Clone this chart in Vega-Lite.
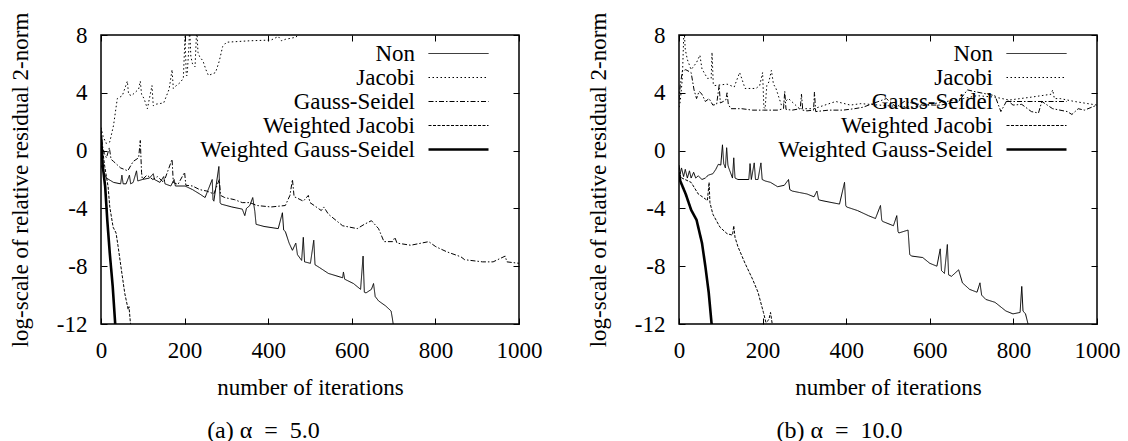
{
  "$schema": "https://vega.github.io/schema/vega-lite/v6.json",
  "autosize": {"type": "none"},
  "padding": {"left": 101, "top": 35, "right": 1027, "bottom": 406},
  "background": "white",
  "spacing": 160,
  "bounds": "flush",
  "config": {
    "font": "Liberation Serif",
    "view": {"stroke": "black", "strokeWidth": 1.5},
    "axis": {
      "domain": false, "grid": false, "ticks": true, "tickColor": "black", "tickSize": -6, "tickWidth": 1,
      "labelFont": "Liberation Serif", "labelFontSize": 23, "labelColor": "black", "labelPadding": 21,
      "labelFlush": false, "labelOverlap": false,
      "labelExpr": "'' + datum.value",
      "titleFont": "Liberation Serif", "titleFontSize": 23, "titleFontWeight": "normal", "titleColor": "black"
    },
    "legend": {
      "orient": "none", "legendX": 346, "legendY": 7, "title": null,
      "symbolType": "M-6,0H6", "symbolSize": 100, "symbolStrokeColor": "black", "symbolFillColor": "transparent",
      "rowPadding": -2, "padding": 0,
      "labelAlign": "right", "labelOffset": -55, "labelFont": "Liberation Serif", "labelFontSize": 23,
      "labelColor": "black", "labelLimit": 0
    },
    "title": {"font": "Liberation Serif", "fontSize": 24, "fontWeight": "normal", "color": "black"}
  },
  "datasets": {
    "a": [
      {"m":"Non","x":0,"y":-1.0},{"m":"Non","x":5,"y":-1.4},{"m":"Non","x":13,"y":-1.9},{"m":"Non","x":30,"y":-2.2},{"m":"Non","x":47,"y":-2.3},{"m":"Non","x":50,"y":-1.7},{"m":"Non","x":53,"y":-2.3},{"m":"Non","x":60,"y":-2.3},{"m":"Non","x":68,"y":-1.7},{"m":"Non","x":71,"y":-2.3},{"m":"Non","x":77,"y":-2.2},{"m":"Non","x":85,"y":-1.4},{"m":"Non","x":88,"y":-2.1},{"m":"Non","x":99,"y":-2.0},{"m":"Non","x":116,"y":-1.9},{"m":"Non","x":125,"y":-1.6},{"m":"Non","x":128,"y":-2.0},{"m":"Non","x":141,"y":-2.2},{"m":"Non","x":150,"y":-1.8},{"m":"Non","x":153,"y":-2.3},{"m":"Non","x":167,"y":-2.45},{"m":"Non","x":175,"y":-2.0},{"m":"Non","x":178,"y":-2.45},{"m":"Non","x":201,"y":-2.45},{"m":"Non","x":219,"y":-2.7},{"m":"Non","x":236,"y":-3.0},{"m":"Non","x":249,"y":-3.25},{"m":"Non","x":266,"y":-2.0},{"m":"Non","x":268,"y":-3.4},{"m":"Non","x":270,"y":-3.5},{"m":"Non","x":282,"y":-1.1},{"m":"Non","x":285,"y":-3.6},{"m":"Non","x":287,"y":-3.7},{"m":"Non","x":313,"y":-3.9},{"m":"Non","x":338,"y":-4.05},{"m":"Non","x":344,"y":-4.5},{"m":"Non","x":348,"y":-4.0},{"m":"Non","x":356,"y":-3.8},{"m":"Non","x":363,"y":-3.25},{"m":"Non","x":368,"y":-4.2},{"m":"Non","x":371,"y":-5.1},{"m":"Non","x":390,"y":-5.25},{"m":"Non","x":424,"y":-5.4},{"m":"Non","x":434,"y":-4.3},{"m":"Non","x":437,"y":-5.5},{"m":"Non","x":441,"y":-5.6},{"m":"Non","x":450,"y":-6.4},{"m":"Non","x":458,"y":-6.9},{"m":"Non","x":466,"y":-6.4},{"m":"Non","x":470,"y":-7.2},{"m":"Non","x":480,"y":-7.6},{"m":"Non","x":484,"y":-6.0},{"m":"Non","x":487,"y":-7.7},{"m":"Non","x":501,"y":-7.8},{"m":"Non","x":509,"y":-6.2},{"m":"Non","x":512,"y":-7.9},{"m":"Non","x":523,"y":-8.1},{"m":"Non","x":544,"y":-8.5},{"m":"Non","x":578,"y":-8.8},{"m":"Non","x":580,"y":-8.4},{"m":"Non","x":583,"y":-8.9},{"m":"Non","x":604,"y":-9.2},{"m":"Non","x":621,"y":-9.6},{"m":"Non","x":627,"y":-7.3},{"m":"Non","x":630,"y":-9.8},{"m":"Non","x":634,"y":-9.85},{"m":"Non","x":647,"y":-9.6},{"m":"Non","x":652,"y":-9.2},{"m":"Non","x":656,"y":-10.1},{"m":"Non","x":664,"y":-10.4},{"m":"Non","x":681,"y":-10.75},{"m":"Non","x":694,"y":-11.1},{"m":"Non","x":697,"y":-11.6},{"m":"Non","x":702,"y":-12.6},
      {"m":"Jacobi","x":0,"y":1.6},{"m":"Jacobi","x":5,"y":1.0},{"m":"Jacobi","x":12,"y":0.5},{"m":"Jacobi","x":21,"y":0.6},{"m":"Jacobi","x":30,"y":1.75},{"m":"Jacobi","x":39,"y":3.6},{"m":"Jacobi","x":51,"y":3.8},{"m":"Jacobi","x":63,"y":4.8},{"m":"Jacobi","x":66,"y":3.9},{"m":"Jacobi","x":73,"y":3.8},{"m":"Jacobi","x":90,"y":4.25},{"m":"Jacobi","x":94,"y":4.8},{"m":"Jacobi","x":97,"y":3.9},{"m":"Jacobi","x":103,"y":3.6},{"m":"Jacobi","x":111,"y":2.9},{"m":"Jacobi","x":122,"y":4.5},{"m":"Jacobi","x":125,"y":3.1},{"m":"Jacobi","x":129,"y":3.2},{"m":"Jacobi","x":150,"y":3.3},{"m":"Jacobi","x":163,"y":4.25},{"m":"Jacobi","x":170,"y":5.6},{"m":"Jacobi","x":173,"y":4.3},{"m":"Jacobi","x":176,"y":4.4},{"m":"Jacobi","x":189,"y":4.7},{"m":"Jacobi","x":197,"y":5.0},{"m":"Jacobi","x":201,"y":7.9},{"m":"Jacobi","x":204,"y":5.2},{"m":"Jacobi","x":206,"y":5.2},{"m":"Jacobi","x":210,"y":7.0},{"m":"Jacobi","x":212,"y":8.5},{"m":"Jacobi","x":215,"y":6.5},{"m":"Jacobi","x":219,"y":6.0},{"m":"Jacobi","x":225,"y":5.8},{"m":"Jacobi","x":229,"y":8.5},{"m":"Jacobi","x":232,"y":6.8},{"m":"Jacobi","x":236,"y":6.5},{"m":"Jacobi","x":244,"y":6.2},{"m":"Jacobi","x":251,"y":5.6},{"m":"Jacobi","x":257,"y":5.2},{"m":"Jacobi","x":274,"y":5.4},{"m":"Jacobi","x":283,"y":6.2},{"m":"Jacobi","x":291,"y":7.2},{"m":"Jacobi","x":300,"y":7.5},{"m":"Jacobi","x":356,"y":7.6},{"m":"Jacobi","x":407,"y":7.65},{"m":"Jacobi","x":424,"y":7.9},{"m":"Jacobi","x":432,"y":7.6},{"m":"Jacobi","x":441,"y":7.7},{"m":"Jacobi","x":467,"y":7.85},{"m":"Jacobi","x":480,"y":8.6},
      {"m":"Gauss-Seidel","x":0,"y":1.5},{"m":"Gauss-Seidel","x":3,"y":0.4},{"m":"Gauss-Seidel","x":8,"y":-0.2},{"m":"Gauss-Seidel","x":13,"y":-0.5},{"m":"Gauss-Seidel","x":20,"y":0.2},{"m":"Gauss-Seidel","x":24,"y":-0.6},{"m":"Gauss-Seidel","x":30,"y":-0.75},{"m":"Gauss-Seidel","x":47,"y":-1.2},{"m":"Gauss-Seidel","x":64,"y":-1.4},{"m":"Gauss-Seidel","x":77,"y":-0.75},{"m":"Gauss-Seidel","x":90,"y":-0.5},{"m":"Gauss-Seidel","x":94,"y":0.7},{"m":"Gauss-Seidel","x":97,"y":-1.5},{"m":"Gauss-Seidel","x":99,"y":-2.0},{"m":"Gauss-Seidel","x":110,"y":-1.7},{"m":"Gauss-Seidel","x":124,"y":-2.0},{"m":"Gauss-Seidel","x":135,"y":-1.8},{"m":"Gauss-Seidel","x":150,"y":-2.2},{"m":"Gauss-Seidel","x":170,"y":-0.6},{"m":"Gauss-Seidel","x":173,"y":-2.2},{"m":"Gauss-Seidel","x":184,"y":-2.35},{"m":"Gauss-Seidel","x":200,"y":-1.5},{"m":"Gauss-Seidel","x":203,"y":-2.4},{"m":"Gauss-Seidel","x":219,"y":-2.45},{"m":"Gauss-Seidel","x":236,"y":-2.7},{"m":"Gauss-Seidel","x":253,"y":-2.8},{"m":"Gauss-Seidel","x":270,"y":-3.0},{"m":"Gauss-Seidel","x":283,"y":-2.0},{"m":"Gauss-Seidel","x":286,"y":-3.1},{"m":"Gauss-Seidel","x":296,"y":-3.25},{"m":"Gauss-Seidel","x":320,"y":-3.4},{"m":"Gauss-Seidel","x":338,"y":-3.6},{"m":"Gauss-Seidel","x":356,"y":-3.6},{"m":"Gauss-Seidel","x":373,"y":-3.8},{"m":"Gauss-Seidel","x":407,"y":-3.9},{"m":"Gauss-Seidel","x":441,"y":-3.8},{"m":"Gauss-Seidel","x":452,"y":-3.1},{"m":"Gauss-Seidel","x":458,"y":-2.0},{"m":"Gauss-Seidel","x":462,"y":-3.2},{"m":"Gauss-Seidel","x":467,"y":-3.25},{"m":"Gauss-Seidel","x":484,"y":-3.5},{"m":"Gauss-Seidel","x":496,"y":-3.1},{"m":"Gauss-Seidel","x":500,"y":-3.6},{"m":"Gauss-Seidel","x":510,"y":-3.8},{"m":"Gauss-Seidel","x":527,"y":-4.15},{"m":"Gauss-Seidel","x":533,"y":-3.9},{"m":"Gauss-Seidel","x":544,"y":-4.4},{"m":"Gauss-Seidel","x":578,"y":-5.2},{"m":"Gauss-Seidel","x":613,"y":-5.4},{"m":"Gauss-Seidel","x":630,"y":-5.1},{"m":"Gauss-Seidel","x":647,"y":-4.85},{"m":"Gauss-Seidel","x":664,"y":-5.4},{"m":"Gauss-Seidel","x":677,"y":-6.3},{"m":"Gauss-Seidel","x":698,"y":-6.3},{"m":"Gauss-Seidel","x":703,"y":-6.0},{"m":"Gauss-Seidel","x":708,"y":-6.4},{"m":"Gauss-Seidel","x":741,"y":-6.55},{"m":"Gauss-Seidel","x":784,"y":-6.3},{"m":"Gauss-Seidel","x":801,"y":-6.65},{"m":"Gauss-Seidel","x":827,"y":-7.0},{"m":"Gauss-Seidel","x":861,"y":-7.35},{"m":"Gauss-Seidel","x":870,"y":-7.55},{"m":"Gauss-Seidel","x":913,"y":-7.7},{"m":"Gauss-Seidel","x":938,"y":-7.7},{"m":"Gauss-Seidel","x":967,"y":-7.3},{"m":"Gauss-Seidel","x":971,"y":-7.7},{"m":"Gauss-Seidel","x":1000,"y":-7.8},
      {"m":"Weighted Jacobi","x":0,"y":1.2},{"m":"Weighted Jacobi","x":4,"y":0.0},{"m":"Weighted Jacobi","x":9,"y":-1.1},{"m":"Weighted Jacobi","x":17,"y":-2.5},{"m":"Weighted Jacobi","x":21,"y":-3.9},{"m":"Weighted Jacobi","x":29,"y":-5.3},{"m":"Weighted Jacobi","x":36,"y":-5.7},{"m":"Weighted Jacobi","x":41,"y":-6.65},{"m":"Weighted Jacobi","x":49,"y":-8.3},{"m":"Weighted Jacobi","x":57,"y":-9.9},{"m":"Weighted Jacobi","x":65,"y":-11.0},{"m":"Weighted Jacobi","x":67,"y":-10.8},{"m":"Weighted Jacobi","x":70,"y":-11.8},{"m":"Weighted Jacobi","x":73,"y":-12.5},
      {"m":"Weighted Gauss-Seidel","x":0,"y":1.0},{"m":"Weighted Gauss-Seidel","x":4,"y":-1.0},{"m":"Weighted Gauss-Seidel","x":10,"y":-2.5},{"m":"Weighted Gauss-Seidel","x":15,"y":-4.8},{"m":"Weighted Gauss-Seidel","x":21,"y":-7.1},{"m":"Weighted Gauss-Seidel","x":28,"y":-9.4},{"m":"Weighted Gauss-Seidel","x":34,"y":-12.0},{"m":"Weighted Gauss-Seidel","x":36,"y":-12.6}
    ],
    "b": [
      {"m":"Non","x":0,"y":-1.0},{"m":"Non","x":3,"y":-1.6},{"m":"Non","x":6,"y":-1.2},{"m":"Non","x":11,"y":-1.8},{"m":"Non","x":15,"y":-1.3},{"m":"Non","x":20,"y":-1.9},{"m":"Non","x":25,"y":-1.4},{"m":"Non","x":29,"y":-1.9},{"m":"Non","x":35,"y":-1.5},{"m":"Non","x":40,"y":-1.9},{"m":"Non","x":46,"y":-1.75},{"m":"Non","x":55,"y":-2.0},{"m":"Non","x":63,"y":-1.9},{"m":"Non","x":70,"y":-1.7},{"m":"Non","x":81,"y":-1.6},{"m":"Non","x":88,"y":-1.3},{"m":"Non","x":94,"y":-0.95},{"m":"Non","x":100,"y":-1.0},{"m":"Non","x":104,"y":0.4},{"m":"Non","x":107,"y":-0.9},{"m":"Non","x":111,"y":-1.2},{"m":"Non","x":114,"y":0.2},{"m":"Non","x":117,"y":-1.0},{"m":"Non","x":119,"y":-1.2},{"m":"Non","x":128,"y":-1.9},{"m":"Non","x":131,"y":-0.5},{"m":"Non","x":134,"y":-1.9},{"m":"Non","x":141,"y":-2.0},{"m":"Non","x":167,"y":-2.0},{"m":"Non","x":170,"y":-0.9},{"m":"Non","x":173,"y":-2.0},{"m":"Non","x":180,"y":-0.85},{"m":"Non","x":183,"y":-2.0},{"m":"Non","x":189,"y":-2.0},{"m":"Non","x":196,"y":-0.85},{"m":"Non","x":199,"y":-2.0},{"m":"Non","x":206,"y":-2.1},{"m":"Non","x":219,"y":-2.2},{"m":"Non","x":236,"y":-2.5},{"m":"Non","x":252,"y":-2.4},{"m":"Non","x":262,"y":-2.0},{"m":"Non","x":265,"y":-2.7},{"m":"Non","x":271,"y":-2.8},{"m":"Non","x":288,"y":-2.9},{"m":"Non","x":306,"y":-3.0},{"m":"Non","x":323,"y":-3.2},{"m":"Non","x":330,"y":-2.8},{"m":"Non","x":334,"y":-3.4},{"m":"Non","x":340,"y":-3.45},{"m":"Non","x":366,"y":-3.6},{"m":"Non","x":384,"y":-3.7},{"m":"Non","x":396,"y":-2.2},{"m":"Non","x":399,"y":-3.8},{"m":"Non","x":401,"y":-3.9},{"m":"Non","x":427,"y":-4.15},{"m":"Non","x":453,"y":-4.5},{"m":"Non","x":470,"y":-4.7},{"m":"Non","x":482,"y":-3.8},{"m":"Non","x":485,"y":-4.8},{"m":"Non","x":487,"y":-4.9},{"m":"Non","x":513,"y":-5.2},{"m":"Non","x":521,"y":-4.5},{"m":"Non","x":524,"y":-5.6},{"m":"Non","x":526,"y":-5.7},{"m":"Non","x":548,"y":-5.5},{"m":"Non","x":552,"y":-7.2},{"m":"Non","x":557,"y":-7.3},{"m":"Non","x":583,"y":-7.4},{"m":"Non","x":600,"y":-7.8},{"m":"Non","x":617,"y":-8.0},{"m":"Non","x":625,"y":-6.8},{"m":"Non","x":628,"y":-8.3},{"m":"Non","x":635,"y":-8.5},{"m":"Non","x":642,"y":-6.5},{"m":"Non","x":645,"y":-8.6},{"m":"Non","x":652,"y":-8.7},{"m":"Non","x":669,"y":-8.25},{"m":"Non","x":678,"y":-9.15},{"m":"Non","x":695,"y":-9.6},{"m":"Non","x":713,"y":-9.8},{"m":"Non","x":720,"y":-9.15},{"m":"Non","x":724,"y":-10.0},{"m":"Non","x":734,"y":-10.3},{"m":"Non","x":756,"y":-10.5},{"m":"Non","x":782,"y":-11.1},{"m":"Non","x":799,"y":-11.3},{"m":"Non","x":816,"y":-11.2},{"m":"Non","x":820,"y":-9.4},{"m":"Non","x":823,"y":-11.1},{"m":"Non","x":829,"y":-11.3},{"m":"Non","x":835,"y":-12.0},{"m":"Non","x":838,"y":-12.6},
      {"m":"Jacobi","x":0,"y":3.0},{"m":"Jacobi","x":3,"y":3.4},{"m":"Jacobi","x":8,"y":5.0},{"m":"Jacobi","x":12,"y":8.5},{"m":"Jacobi","x":15,"y":7.0},{"m":"Jacobi","x":20,"y":6.3},{"m":"Jacobi","x":29,"y":5.6},{"m":"Jacobi","x":42,"y":6.1},{"m":"Jacobi","x":50,"y":6.6},{"m":"Jacobi","x":55,"y":5.65},{"m":"Jacobi","x":68,"y":5.0},{"m":"Jacobi","x":77,"y":5.0},{"m":"Jacobi","x":79,"y":6.8},{"m":"Jacobi","x":82,"y":4.6},{"m":"Jacobi","x":85,"y":4.5},{"m":"Jacobi","x":115,"y":4.6},{"m":"Jacobi","x":132,"y":4.4},{"m":"Jacobi","x":145,"y":5.4},{"m":"Jacobi","x":150,"y":5.0},{"m":"Jacobi","x":158,"y":4.3},{"m":"Jacobi","x":184,"y":4.3},{"m":"Jacobi","x":193,"y":4.5},{"m":"Jacobi","x":200,"y":5.4},{"m":"Jacobi","x":203,"y":3.0},{"m":"Jacobi","x":206,"y":2.9},{"m":"Jacobi","x":210,"y":4.5},{"m":"Jacobi","x":215,"y":4.75},{"m":"Jacobi","x":221,"y":5.55},{"m":"Jacobi","x":226,"y":4.6},{"m":"Jacobi","x":232,"y":4.3},{"m":"Jacobi","x":245,"y":3.15},{"m":"Jacobi","x":262,"y":3.6},{"m":"Jacobi","x":288,"y":2.9},{"m":"Jacobi","x":323,"y":2.9},{"m":"Jacobi","x":375,"y":3.4},{"m":"Jacobi","x":410,"y":3.15},{"m":"Jacobi","x":435,"y":3.25},{"m":"Jacobi","x":500,"y":3.1},{"m":"Jacobi","x":560,"y":3.0},{"m":"Jacobi","x":620,"y":3.3},{"m":"Jacobi","x":680,"y":3.6},{"m":"Jacobi","x":713,"y":3.8},{"m":"Jacobi","x":756,"y":3.7},{"m":"Jacobi","x":790,"y":3.5},{"m":"Jacobi","x":843,"y":3.7},{"m":"Jacobi","x":890,"y":3.9},{"m":"Jacobi","x":894,"y":4.2},{"m":"Jacobi","x":898,"y":3.6},{"m":"Jacobi","x":912,"y":3.6},{"m":"Jacobi","x":946,"y":3.4},{"m":"Jacobi","x":1000,"y":3.15},
      {"m":"Gauss-Seidel","x":0,"y":3.5},{"m":"Gauss-Seidel","x":3,"y":4.5},{"m":"Gauss-Seidel","x":8,"y":5.5},{"m":"Gauss-Seidel","x":16,"y":5.6},{"m":"Gauss-Seidel","x":29,"y":5.4},{"m":"Gauss-Seidel","x":36,"y":4.2},{"m":"Gauss-Seidel","x":42,"y":3.6},{"m":"Gauss-Seidel","x":48,"y":4.1},{"m":"Gauss-Seidel","x":55,"y":3.9},{"m":"Gauss-Seidel","x":63,"y":3.4},{"m":"Gauss-Seidel","x":72,"y":3.6},{"m":"Gauss-Seidel","x":81,"y":3.15},{"m":"Gauss-Seidel","x":90,"y":3.2},{"m":"Gauss-Seidel","x":96,"y":4.5},{"m":"Gauss-Seidel","x":99,"y":3.3},{"m":"Gauss-Seidel","x":106,"y":3.4},{"m":"Gauss-Seidel","x":112,"y":3.5},{"m":"Gauss-Seidel","x":115,"y":4.0},{"m":"Gauss-Seidel","x":118,"y":3.2},{"m":"Gauss-Seidel","x":124,"y":2.9},{"m":"Gauss-Seidel","x":150,"y":2.9},{"m":"Gauss-Seidel","x":176,"y":2.8},{"m":"Gauss-Seidel","x":202,"y":2.8},{"m":"Gauss-Seidel","x":236,"y":2.8},{"m":"Gauss-Seidel","x":250,"y":2.9},{"m":"Gauss-Seidel","x":253,"y":4.1},{"m":"Gauss-Seidel","x":256,"y":2.85},{"m":"Gauss-Seidel","x":271,"y":2.8},{"m":"Gauss-Seidel","x":290,"y":2.9},{"m":"Gauss-Seidel","x":293,"y":3.9},{"m":"Gauss-Seidel","x":296,"y":2.8},{"m":"Gauss-Seidel","x":306,"y":2.75},{"m":"Gauss-Seidel","x":322,"y":2.8},{"m":"Gauss-Seidel","x":324,"y":4.05},{"m":"Gauss-Seidel","x":327,"y":2.7},{"m":"Gauss-Seidel","x":358,"y":2.8},{"m":"Gauss-Seidel","x":392,"y":2.8},{"m":"Gauss-Seidel","x":420,"y":2.9},{"m":"Gauss-Seidel","x":440,"y":3.0},{"m":"Gauss-Seidel","x":496,"y":3.6},{"m":"Gauss-Seidel","x":520,"y":3.0},{"m":"Gauss-Seidel","x":539,"y":3.4},{"m":"Gauss-Seidel","x":583,"y":3.15},{"m":"Gauss-Seidel","x":626,"y":3.15},{"m":"Gauss-Seidel","x":669,"y":3.4},{"m":"Gauss-Seidel","x":690,"y":4.2},{"m":"Gauss-Seidel","x":713,"y":4.05},{"m":"Gauss-Seidel","x":756,"y":3.8},{"m":"Gauss-Seidel","x":770,"y":2.7},{"m":"Gauss-Seidel","x":785,"y":3.5},{"m":"Gauss-Seidel","x":799,"y":3.15},{"m":"Gauss-Seidel","x":820,"y":3.2},{"m":"Gauss-Seidel","x":843,"y":2.7},{"m":"Gauss-Seidel","x":860,"y":2.6},{"m":"Gauss-Seidel","x":868,"y":3.4},{"m":"Gauss-Seidel","x":894,"y":2.9},{"m":"Gauss-Seidel","x":929,"y":2.7},{"m":"Gauss-Seidel","x":940,"y":2.5},{"m":"Gauss-Seidel","x":955,"y":2.9},{"m":"Gauss-Seidel","x":970,"y":2.8},{"m":"Gauss-Seidel","x":1000,"y":3.15},
      {"m":"Weighted Jacobi","x":0,"y":-1.6},{"m":"Weighted Jacobi","x":7,"y":-1.9},{"m":"Weighted Jacobi","x":29,"y":-2.2},{"m":"Weighted Jacobi","x":46,"y":-3.0},{"m":"Weighted Jacobi","x":56,"y":-3.2},{"m":"Weighted Jacobi","x":68,"y":-3.45},{"m":"Weighted Jacobi","x":72,"y":-2.2},{"m":"Weighted Jacobi","x":74,"y":-3.6},{"m":"Weighted Jacobi","x":81,"y":-4.4},{"m":"Weighted Jacobi","x":98,"y":-5.3},{"m":"Weighted Jacobi","x":115,"y":-5.75},{"m":"Weighted Jacobi","x":128,"y":-5.85},{"m":"Weighted Jacobi","x":131,"y":-5.2},{"m":"Weighted Jacobi","x":134,"y":-6.0},{"m":"Weighted Jacobi","x":141,"y":-6.65},{"m":"Weighted Jacobi","x":158,"y":-7.8},{"m":"Weighted Jacobi","x":176,"y":-8.9},{"m":"Weighted Jacobi","x":189,"y":-9.8},{"m":"Weighted Jacobi","x":202,"y":-11.2},{"m":"Weighted Jacobi","x":208,"y":-11.9},{"m":"Weighted Jacobi","x":215,"y":-11.7},{"m":"Weighted Jacobi","x":219,"y":-11.2},{"m":"Weighted Jacobi","x":223,"y":-12.0},{"m":"Weighted Jacobi","x":226,"y":-12.6},
      {"m":"Weighted Gauss-Seidel","x":0,"y":-1.5},{"m":"Weighted Gauss-Seidel","x":3,"y":-2.1},{"m":"Weighted Gauss-Seidel","x":16,"y":-3.0},{"m":"Weighted Gauss-Seidel","x":29,"y":-4.1},{"m":"Weighted Gauss-Seidel","x":42,"y":-4.8},{"m":"Weighted Gauss-Seidel","x":55,"y":-6.4},{"m":"Weighted Gauss-Seidel","x":63,"y":-8.0},{"m":"Weighted Gauss-Seidel","x":71,"y":-9.8},{"m":"Weighted Gauss-Seidel","x":78,"y":-12.0},{"m":"Weighted Gauss-Seidel","x":80,"y":-12.5}
    ]
  },
  "hconcat": [
    {
      "width": 418, "height": 289,
      "title": {"text": "(a) α\u2002=\u20025.0", "orient": "bottom", "frame": "bounds", "anchor": "middle", "offset": 20, "dx": -12},
      "data": {"name": "a"},
      "layer": [
        {
          "mark": {"type": "line", "clip": true, "color": "black"},
          "encoding": {
            "x": {"field": "x", "type": "quantitative", "scale": {"domain": [0, 1000], "nice": false},
                  "axis": {"values": [0, 200, 400, 600, 800, 1000], "title": "number of iterations", "titleBaseline": "alphabetic", "titleY": 70}},
            "y": {"field": "y", "type": "quantitative", "scale": {"domain": [-12, 8], "nice": false},
                  "axis": {"values": [-12, -8, -4, 0, 4, 8], "labelPadding": 20, "title": "log-scale of relative residual 2-norm", "titleX": -69, "titleY": 144.5}},
            "strokeDash": {"field": "m", "type": "nominal",
              "scale": {"domain": ["Non", "Jacobi", "Gauss-Seidel", "Weighted Jacobi", "Weighted Gauss-Seidel"],
                        "range": [[1, 0], [1.5, 2.5], [5, 2, 1.5, 2], [3, 1.5], [1, 0]]}},
            "strokeWidth": {"field": "m", "type": "ordinal",
              "scale": {"type": "ordinal", "domain": ["Non", "Jacobi", "Gauss-Seidel", "Weighted Jacobi", "Weighted Gauss-Seidel"],
                        "range": [1, 1, 1, 1, 2.6]}}
          }
        },
        {
          "mark": {"type": "line", "clip": true, "opacity": 0},
          "encoding": {
            "x": {"field": "x", "type": "quantitative", "axis": {"orient": "top", "values": [0, 200, 400, 600, 800, 1000], "labels": false, "title": null}},
            "y": {"field": "y", "type": "quantitative", "axis": {"orient": "right", "values": [-12, -8, -4, 0, 4, 8], "labels": false, "title": null}},
            "detail": {"field": "m"}
          }
        }
      ],
      "resolve": {"axis": {"x": "independent", "y": "independent"}}
    },
    {
      "width": 418, "height": 289,
      "title": {"text": "(b) α\u2002=\u200210.0", "orient": "bottom", "frame": "bounds", "anchor": "middle", "offset": 20, "dx": -14},
      "data": {"name": "b"},
      "layer": [
        {
          "mark": {"type": "line", "clip": true, "color": "black"},
          "encoding": {
            "x": {"field": "x", "type": "quantitative", "scale": {"domain": [0, 1000], "nice": false},
                  "axis": {"values": [0, 200, 400, 600, 800, 1000], "title": "number of iterations", "titleBaseline": "alphabetic", "titleY": 70}},
            "y": {"field": "y", "type": "quantitative", "scale": {"domain": [-12, 8], "nice": false},
                  "axis": {"values": [-12, -8, -4, 0, 4, 8], "labelPadding": 20, "title": "log-scale of relative residual 2-norm", "titleX": -69, "titleY": 144.5}},
            "strokeDash": {"field": "m", "type": "nominal",
              "scale": {"domain": ["Non", "Jacobi", "Gauss-Seidel", "Weighted Jacobi", "Weighted Gauss-Seidel"],
                        "range": [[1, 0], [1.5, 2.5], [5, 2, 1.5, 2], [3, 1.5], [1, 0]]}},
            "strokeWidth": {"field": "m", "type": "ordinal",
              "scale": {"type": "ordinal", "domain": ["Non", "Jacobi", "Gauss-Seidel", "Weighted Jacobi", "Weighted Gauss-Seidel"],
                        "range": [1, 1, 1, 1, 2.6]}}
          }
        },
        {
          "mark": {"type": "line", "clip": true, "opacity": 0},
          "encoding": {
            "x": {"field": "x", "type": "quantitative", "axis": {"orient": "top", "values": [0, 200, 400, 600, 800, 1000], "labels": false, "title": null}},
            "y": {"field": "y", "type": "quantitative", "axis": {"orient": "right", "values": [-12, -8, -4, 0, 4, 8], "labels": false, "title": null}},
            "detail": {"field": "m"}
          }
        }
      ],
      "resolve": {"axis": {"x": "independent", "y": "independent"}}
    }
  ],
  "resolve": {
    "scale": {"strokeDash": "independent", "strokeWidth": "independent"},
    "legend": {"strokeDash": "independent", "strokeWidth": "independent"}
  }
}
